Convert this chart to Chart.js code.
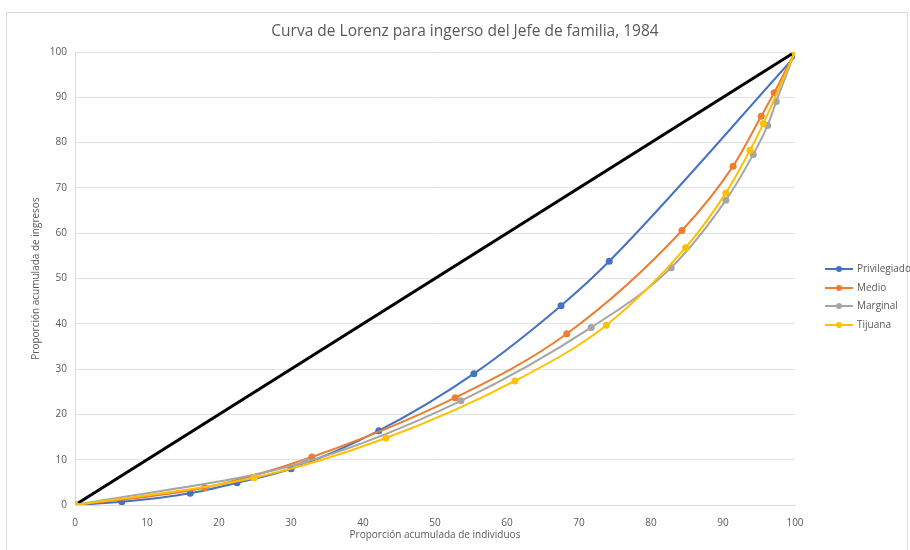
<!DOCTYPE html>
<html>
<head>
<meta charset="utf-8">
<script src="https://cdn.jsdelivr.net/npm/chart.js@4"></script>
<style>
  html, body { margin: 0; padding: 0; background: #fff; }
  #wrap { position: relative; width: 910px; height: 550px; }
  #frame { position: absolute; left: 6px; top: 12px; width: 902px; height: 540px; border: 1px solid #d9d9d9; box-sizing: border-box; }
  #title { position: absolute; left: 0; width: 930px; top: 19px; text-align: center; font-family: "Open Sans", sans-serif; font-size: 15.5px; color: #595959; }
  #legend { position: absolute; left: 824px; top: 259px; font-family: "Open Sans", sans-serif; font-size: 10px; color: #595959; }
  #legend div { height: 18.5px; line-height: 18.5px; white-space: nowrap; }
  #legend svg { vertical-align: middle; margin-right: 3px; }
</style>
</head>
<body>
<div id="wrap">
  <div id="frame"></div>
  <canvas id="chart" width="910" height="550"></canvas>
  <div id="title">Curva de Lorenz para ingerso del Jefe de familia, 1984</div>
  <div id="legend"></div>
</div>
<script>
// datos (x = % acumulado de individuos, y = % acumulado de ingresos)
const igualdadX = [0, 100];
const igualdadY = [0, 100];

const privX = [0, 6.5, 16, 22.5, 30, 42.2, 55.4, 67.5, 74.2, 100];
const privY = [0, 0.7, 2.6, 4.9, 8, 16.4, 29, 44, 53.8, 99];

const medioX = [0, 18, 32.9, 52.8, 68.3, 84.3, 91.4, 95.3, 97.1, 100];
const medioY = [0, 3.8, 10.6, 23.7, 37.8, 60.6, 74.8, 85.8, 91, 100];

const margX = [0, 32, 53.6, 71.7, 82.8, 90.4, 94.2, 96.2, 97.4, 100];
const margY = [0, 9.5, 23, 39.2, 52.4, 67.3, 77.4, 83.8, 89.1, 100];

const tijX = [0, 24.9, 43.2, 61.1, 73.8, 84.8, 90.4, 93.75, 95.6, 100];
const tijY = [0, 6.0, 14.8, 27.4, 39.7, 56.8, 68.9, 78.3, 84.2, 100];

const series = [
  { label: "Privilegiado", xs: privX, ys: privY, color: "#4472C4" },
  { label: "Medio", xs: medioX, ys: medioY, color: "#ED7D31" },
  { label: "Marginal", xs: margX, ys: margY, color: "#A5A5A5" },
  { label: "Tijuana", xs: tijX, ys: tijY, color: "#FFC000" }
];

function toPoints(xs, ys) {
  return xs.map((x, i) => ({ x: x, y: ys[i] }));
}

const datasets = series.map((s, i) => ({
  label: s.label,
  data: toPoints(s.xs, s.ys),
  borderColor: s.color,
  backgroundColor: s.color,
  borderWidth: 2,
  pointRadius: ctx => (s.label === "Privilegiado" && ctx.dataIndex === s.xs.length - 1) ? 0 : 3.5,
  pointBorderWidth: 0,
  showLine: true,
  cubicInterpolationMode: "monotone",
  order: 3 - i
}));

// línea de igualdad
datasets.push({
  label: "Igualdad",
  data: toPoints(igualdadX, igualdadY),
  borderColor: "#000000",
  borderWidth: 3,
  pointRadius: 0,
  showLine: true,
  order: 10
});

const fontFam = "'Open Sans', sans-serif";

new Chart(document.getElementById("chart"), {
  type: "scatter",
  data: { datasets },
  options: {
    responsive: false,
    animation: false,
    layout: { padding: { left: 28, right: 115, top: 52, bottom: 7 } },
    plugins: {
      legend: { display: false },
      tooltip: { enabled: false },
      title: { display: false }
    },
    scales: {
      x: {
        type: "linear",
        min: 0, max: 100,
        ticks: { stepSize: 10, color: "#595959", font: { family: fontFam, size: 10 }, padding: 4 },
        grid: { display: false },
        border: { display: true, color: "#d9d9d9" },
        title: { display: true, text: "Proporción acumulada de individuos", color: "#595959", font: { family: fontFam, size: 10 }, padding: 2 },
        afterFit: scale => { scale.height = 38; }
      },
      y: {
        min: 0, max: 100,
        ticks: { stepSize: 10, color: "#595959", font: { family: fontFam, size: 10 }, padding: 8 },
        grid: { color: "#e3e3e3", drawTicks: false },
        border: { display: true, color: "#d9d9d9" },
        title: { display: true, text: "Proporción acumulada de ingresos", color: "#595959", font: { family: fontFam, size: 10 }, padding: 2 },
        afterFit: scale => { scale.width = 47; }
      }
    }
  }
});

// leyenda
const legend = document.getElementById("legend");
series.forEach(s => {
  const row = document.createElement("div");
  row.innerHTML = '<svg width="30" height="8"><line x1="1" y1="4" x2="29" y2="4" stroke="' + s.color +
    '" stroke-width="2"/><circle cx="15" cy="4" r="3" fill="' + s.color + '"/></svg>' + s.label;
  legend.appendChild(row);
});
</script>
</body>
</html>
